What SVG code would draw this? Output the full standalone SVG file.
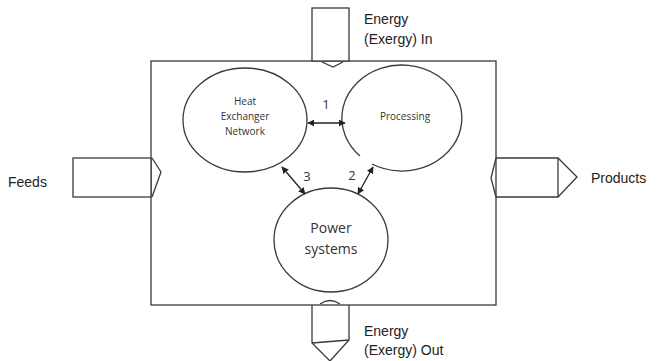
<svg xmlns="http://www.w3.org/2000/svg" width="661" height="361" viewBox="0 0 661 361">
<style>
.ln{fill:none;stroke:#3a3a3a;stroke-width:1.3}
.fl{fill:#fff;stroke:#3a3a3a;stroke-width:1.3}
.t{font-family:"Liberation Sans",Arial,sans-serif;fill:#222}
.c{font-family:"Open Sans","Liberation Sans",sans-serif;fill:#333;text-anchor:middle}
</style>
<defs>
<marker id="ah" viewBox="0 0 10 10" refX="9" refY="5" markerWidth="7" markerHeight="7" orient="auto-start-reverse" markerUnits="userSpaceOnUse">
<path d="M0,0L10,5L0,10z" fill="#222"/>
</marker>
</defs>
<rect width="661" height="361" fill="#fff"/>
<g id="system">
<rect x="151" y="61" width="345" height="244" class="ln" stroke="#555"/>
</g>
<g id="energy-in">
<path d="M322,62 L333,67 L343,62" class="ln"/>
<rect x="312" y="8" width="37" height="53" class="fl"/>
<text class="t" x="364" y="24" font-size="14">Energy</text>
<text class="t" x="364" y="44" font-size="14">(Exergy) In</text>
</g>
<g id="feeds">
<rect x="73" y="158" width="78" height="39" class="fl"/>
<path d="M152,158 L161,172 L152,197" class="ln"/>
<text class="t" x="8" y="187" font-size="14">Feeds</text>
</g>
<g id="products">
<path d="M496,158 L491,178 L496,197" class="ln"/>
<path d="M496,158 L558,158 L577,177 L558,197 L496,197" class="ln"/>
<line x1="558" y1="158" x2="558" y2="197" class="ln"/>
<text class="t" x="591" y="183" font-size="14">Products</text>
</g>
<g id="energy-out">
<path d="M320,304 Q330,297 340,304" class="ln"/>
<path d="M312,305 L312,343 L330,361 L349,340 L349,305" class="ln"/>
<line x1="312" y1="343" x2="349" y2="340" class="ln"/>
<text class="t" x="364" y="336" font-size="14">Energy</text>
<text class="t" x="364" y="355" font-size="14">(Exergy) Out</text>
</g>
<g id="hen">
<ellipse cx="245" cy="120" rx="62" ry="52" class="ln"/>
<text class="c" x="245" y="105" font-size="10">Heat</text>
<text class="c" x="245" y="120" font-size="10">Exchanger</text>
<text class="c" x="245" y="135" font-size="10">Network</text>
</g>
<g id="processing">
<path d="M360,156 A60,53 0 1 1 372,164" class="ln"/>
<text class="c" x="405" y="120" font-size="10">Processing</text>
</g>
<g id="power">
<ellipse cx="331" cy="240" rx="57" ry="52" class="ln"/>
<text class="c" x="331" y="233" font-size="14">Power</text>
<text class="c" x="331" y="254" font-size="14">systems</text>
</g>
<g id="connectors" stroke="#222" stroke-width="1.3">
<line x1="308" y1="123" x2="345" y2="123" marker-start="url(#ah)" marker-end="url(#ah)"/>
<line x1="282" y1="167" x2="305" y2="194" marker-start="url(#ah)" marker-end="url(#ah)"/>
<line x1="373" y1="167" x2="358" y2="194" marker-start="url(#ah)" marker-end="url(#ah)"/>
<text class="c" x="326" y="109" font-size="13" stroke="none">1</text>
<text class="c" x="307" y="181" font-size="13" stroke="none">3</text>
<text class="c" x="352" y="180" font-size="13" stroke="none">2</text>
</g>
</svg>
